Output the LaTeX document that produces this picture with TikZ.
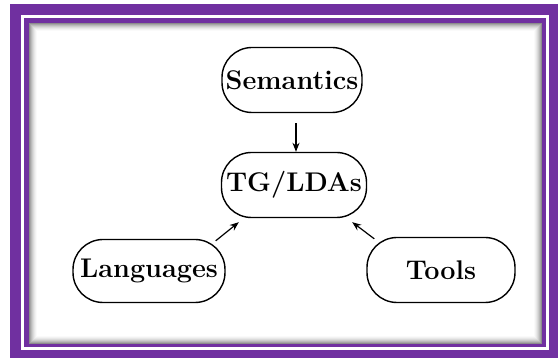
\documentclass[tikz,border=0pt]{standalone}
\usetikzlibrary{arrows.meta}
\definecolor{framepurple}{RGB}{112,48,160}
\tikzset{
  box/.style={draw=black, line width=1.4pt, rounded corners=30pt, inner sep=0pt,
    font=\fontsize{27}{30}\selectfont\bfseries},
  arr/.style={-{Stealth[length=9pt,width=7pt]}, line width=1.2pt}
}
\begin{document}
\begin{tikzpicture}[x=1pt,y=-1pt]
\useasboundingbox (0,0) rectangle (558,358);
% frame
\fill[framepurple] (10,4) rectangle (558,358);
\fill[white] (21,15) rectangle (549,350);
\fill[framepurple] (24,18) rectangle (546,347);
\fill[white] (29,23) rectangle (542,344);
\foreach \i/\g in {0/45,1/35,2/27,3/20,4/14,5/9,6/5,7/2} {
  \draw[black!\g, line width=1pt] (29.5+\i,23.5+\i) rectangle (541.5-\i,343.5-\i);
}
% nodes
\node[box, minimum width=140pt, minimum height=65pt] (sem) at (292,80) {Semantics};
\node[box, minimum width=145pt, minimum height=65pt] (tg) at (294,185) {TG/LDAs};
\node[box, minimum width=152pt, minimum height=63pt] (lang) at (149,271) {Languages};
\node[box, minimum width=148pt, minimum height=65pt] (tools) at (441,270) {Tools};
% arrows
\draw[arr, shorten <=10pt] ([xshift=4pt]sem.south) -- ([xshift=2pt]tg.north);
\draw[arr] ([xshift=-10pt,yshift=-2pt]lang.north east) -- ([xshift=18pt,yshift=-4pt]tg.south west);
\draw[arr] ([xshift=8pt,yshift=-2pt]tools.north west) -- ([xshift=-15pt,yshift=-4pt]tg.south east);
\end{tikzpicture}
\end{document}
